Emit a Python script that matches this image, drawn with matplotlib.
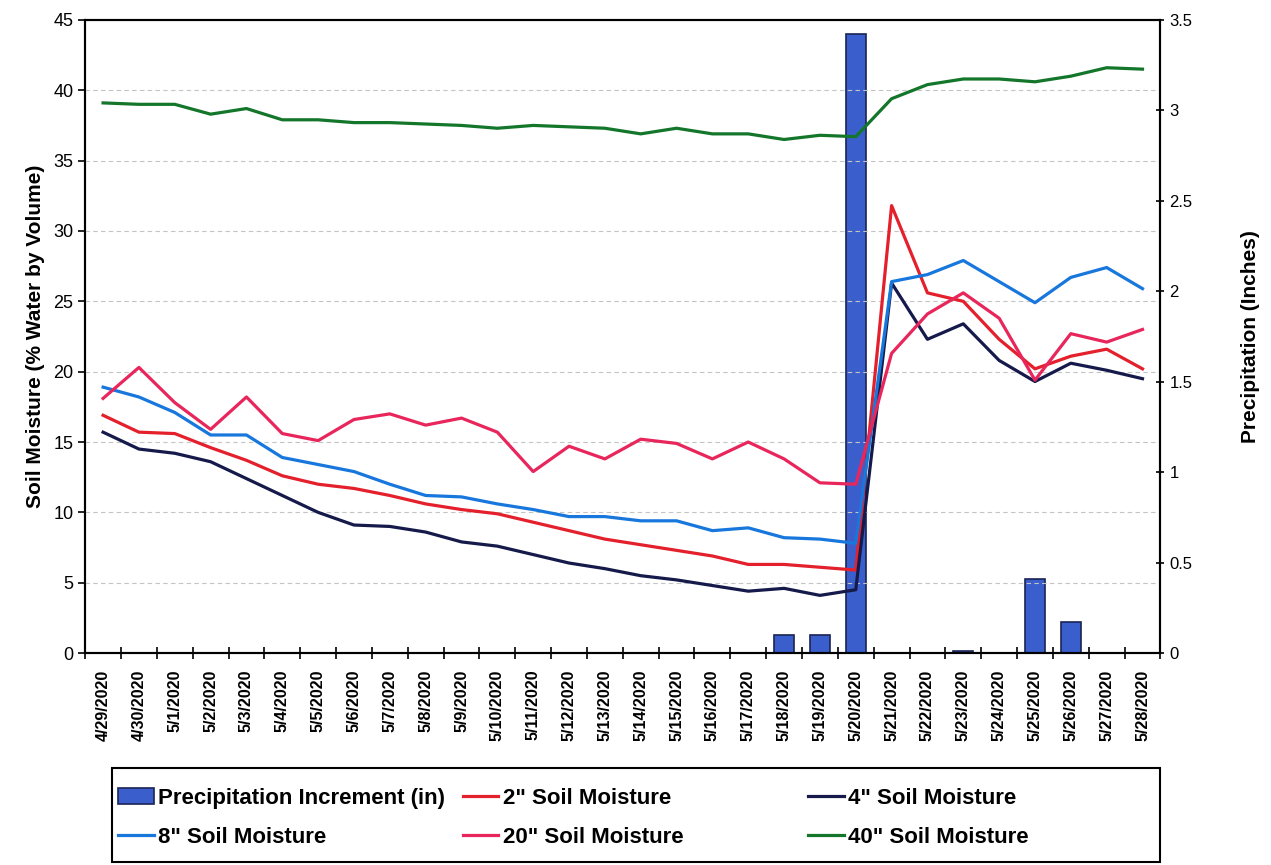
import matplotlib
matplotlib.use("Agg")
import matplotlib.pyplot as plt
from matplotlib.patches import Rectangle
import numpy as np

# dates (category axis)
dates = ["4/29/2020", "4/30/2020"] + [f"5/{d}/2020" for d in range(1, 29)]

# soil moisture (% water by volume)
sm_2in = [16.9, 15.7, 15.6, 14.6, 13.7, 12.6, 12.0, 11.7, 11.2, 10.6, 10.2, 9.9, 9.3, 8.7,
          8.1, 7.7, 7.3, 6.9, 6.3, 6.3, 6.1, 5.9, 31.8, 25.6, 25.0, 22.3, 20.2, 21.1, 21.6, 20.2]
sm_4in = [15.7, 14.5, 14.2, 13.6, 12.4, 11.2, 10.0, 9.1, 9.0, 8.6, 7.9, 7.6, 7.0, 6.4,
          6.0, 5.5, 5.2, 4.8, 4.4, 4.6, 4.1, 4.5, 26.3, 22.3, 23.4, 20.8, 19.3, 20.6, 20.1, 19.5]
sm_8in = [18.9, 18.2, 17.1, 15.5, 15.5, 13.9, 13.4, 12.9, 12.0, 11.2, 11.1, 10.6, 10.2, 9.7,
          9.7, 9.4, 9.4, 8.7, 8.9, 8.2, 8.1, 7.8, 26.4, 26.9, 27.9, 26.4, 24.9, 26.7, 27.4, 25.9]
sm_20in = [18.1, 20.3, 17.8, 15.9, 18.2, 15.6, 15.1, 16.6, 17.0, 16.2, 16.7, 15.7, 12.9, 14.7,
           13.8, 15.2, 14.9, 13.8, 15.0, 13.8, 12.1, 12.0, 21.3, 24.1, 25.6, 23.8, 19.4, 22.7, 22.1, 23.0]
sm_40in = [39.1, 39.0, 39.0, 38.3, 38.7, 37.9, 37.9, 37.7, 37.7, 37.6, 37.5, 37.3, 37.5, 37.4,
           37.3, 36.9, 37.3, 36.9, 36.9, 36.5, 36.8, 36.7, 39.4, 40.4, 40.8, 40.8, 40.6, 41.0, 41.6, 41.5]

# precipitation increment (inches)
precip = [0, 0, 0, 0, 0, 0, 0, 0, 0, 0, 0, 0, 0, 0, 0, 0, 0, 0, 0, 0.1, 0.1, 3.42,
          0, 0, 0.01, 0, 0.41, 0.17, 0, 0]

FONT = ["Liberation Sans Narrow", "Liberation Sans", "DejaVu Sans"]
plt.rcParams["font.family"] = FONT

x = np.arange(len(dates))
fig = plt.figure(figsize=(12.71, 8.65), dpi=100)
ax = fig.add_axes([0.067, 0.245, 0.846, 0.732])
ax2 = ax.twinx()

ax2.bar(x, precip, width=0.55, color="#3a5fcd", edgecolor="#1a2455", linewidth=1.2,
        label="Precipitation Increment (in)")
ax2.set_ylim(0, 3.5)
ax2.set_yticks(np.arange(0, 3.51, 0.5))
ax2.set_yticklabels(["0", "0.5", "1", "1.5", "2", "2.5", "3", "3.5"], fontsize=12)
ax2.tick_params(axis="y", direction="inout", length=6, width=1.2)
ax2.set_ylabel("Precipitation (Inches)", fontsize=15, fontweight="bold", labelpad=35)

lw = 2.3
ax.plot(x, sm_2in, color="#e3202c", lw=lw, label='2" Soil Moisture')
ax.plot(x, sm_4in, color="#151a4a", lw=lw, label='4" Soil Moisture')
ax.plot(x, sm_8in, color="#1877dc", lw=lw, label='8" Soil Moisture')
ax.plot(x, sm_20in, color="#e8265c", lw=lw, label='20" Soil Moisture')
ax.plot(x, sm_40in, color="#13762a", lw=lw, label='40" Soil Moisture')

ax.set_zorder(ax2.get_zorder() + 1)
ax.patch.set_visible(False)

ax.set_xlim(-0.5, len(dates) - 0.5)
ax.set_ylim(0, 45)
ax.set_yticks(np.arange(0, 46, 5))
ax.tick_params(axis="y", labelsize=13, direction="out", length=5, width=1.2)
ax.yaxis.grid(True, color="#c4c4c4", linestyle=(0, (4, 3)), linewidth=0.8)
ax.set_ylabel("Soil Moisture (% Water by Volume)", fontsize=15, fontweight="bold", labelpad=6)

# tick marks between categories, labels at category centres
ax.set_xticks(np.arange(-0.5, len(dates), 1))
ax.set_xticklabels([])
ax.tick_params(axis="x", which="major", direction="inout", length=8, width=1.2)
ax.set_xticks(x, minor=True)
ax.set_xticklabels(dates, minor=True, rotation=90, fontsize=11.5, fontweight="bold")
ax.tick_params(axis="x", which="minor", length=0, pad=12)

for a in (ax, ax2):
    for s in a.spines.values():
        s.set_linewidth(1.5)
        s.set_color("black")

h1, l1 = ax2.get_legend_handles_labels()
h2, l2 = ax.get_legend_handles_labels()
cols = [([h1[0], h2[2]], [l1[0], l2[2]], 0.093),
        ([h2[0], h2[3]], [l2[0], l2[3]], 0.364),
        ([h2[1], h2[4]], [l2[1], l2[4]], 0.636)]
for hs, ls, xl in cols:
    fig.legend(hs, ls, loc="upper left", bbox_to_anchor=(xl, 0.089), bbox_transform=fig.transFigure,
               frameon=False, handlelength=1.6, handletextpad=0.2, borderpad=0.0,
               borderaxespad=0.0, labelspacing=0.8,
               prop={"family": FONT, "weight": "bold", "size": 16})
fig.patches.append(Rectangle((0.088, 0.004), 0.825, 0.108, transform=fig.transFigure,
                             fill=False, edgecolor="black", linewidth=1.5))

fig.savefig("out.png", dpi=100)
